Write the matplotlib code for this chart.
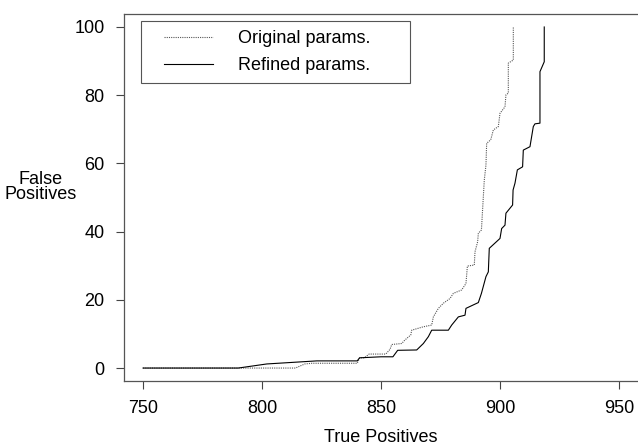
import numpy as np
import matplotlib
matplotlib.use("Agg")
import matplotlib.pyplot as plt
from matplotlib.legend_handler import HandlerLine2D

plt.rcParams['font.family'] = ['Liberation Sans', 'DejaVu Sans']

# cumulative false positives vs true positives
orig_tp = [750, 814, 818, 821, 840, 841, 843, 845, 852, 853.8, 854.5, 858.7, 860, 862.5,
           862.9, 867.8, 871.3, 872, 874.1, 876.2, 879, 880.4, 883.9, 885.7, 886.3, 889.2,
           889.5, 890.6, 890.9, 892.2, 893.4, 894.1, 894.4, 896.1, 897.2, 899.3, 900, 902.1,
           902.5, 903.5, 903.5, 905.6, 905.6]
orig_fp = [0, 0, 1.2, 1.4, 1.4, 3.0, 3.0, 4.1, 4.1, 5.5, 6.9, 7.2, 8.2, 9.7,
           11.1, 12.1, 12.6, 15, 17.5, 19, 20.4, 21.9, 22.9, 24.8, 29.9, 30.2,
           34.1, 37, 39.5, 40.5, 55.1, 59.5, 65.9, 66.9, 69.8, 70.8, 74.7, 76.6,
           80.1, 80.6, 89.4, 90.3, 100]

ref_tp = [750, 790, 802, 823, 840, 841, 850, 855, 857, 865, 867.8, 869.9, 871.3, 878.3,
          879.7, 882.5, 885.3, 885.7, 890.9, 892.2, 894.1, 895.1, 895.5, 900, 900.7, 902.1,
          902.5, 905.3, 905.5, 906.3, 907.3, 909.5, 909.8, 912.6, 914, 914.7, 916.8, 916.8,
          918.6, 918.6]
ref_fp = [0, 0, 1.2, 2.1, 2.1, 3.0, 3.3, 3.3, 5.2, 5.3, 7.2, 9.2, 11.1, 11.1,
          12.6, 15.0, 15.5, 17.5, 19.2, 21.9, 26.8, 28.2, 35.1, 38, 40.9, 41.9,
          45.4, 47.8, 52.2, 54.2, 58.1, 59.0, 63.9, 64.9, 70.8, 71.6, 71.8, 86.9,
          89.8, 100]

xticks = [750, 800, 850, 900, 950]
yticks = [0, 20, 40, 60, 80, 100]

fig = plt.figure(figsize=(6.38, 4.45), dpi=100)
ax = fig.add_axes([0.1944, 0.1438, 0.8056, 0.8247])

l1, = ax.plot(orig_tp, orig_fp, color='#555555', linestyle=(0, (1, 1)), linewidth=0.8,
              label='Original params.')
l2, = ax.plot(ref_tp, ref_fp, color='black', linewidth=0.8, label='Refined params.')

ax.set_xlim(742, 958)
ax.set_ylim(-3.8, 103.8)
ax.set_xticks(xticks)
ax.set_yticks(yticks)
ax.tick_params(direction='out', length=6, width=0.8, labelsize=13, pad=8, color='#444444')
for s in ['left', 'bottom', 'top']:
    ax.spines[s].set_color('#555555')
    ax.spines[s].set_linewidth(0.9)
ax.spines['right'].set_visible(False)

ax.set_xlabel('True Positives', fontsize=13, labelpad=8)
ax.set_ylabel('False\nPositives', fontsize=13, rotation=0, ha='center', va='center',
              linespacing=0.85)
ax.yaxis.set_label_coords(-0.163, 0.529)

hmap = {l1: HandlerLine2D(xpad=0.8), l2: HandlerLine2D(xpad=0.8)}
leg = ax.legend(handler_map=hmap, loc='upper left',
                bbox_to_anchor=(0.033, 0.881, 0.523, 0.1), mode='expand',
                borderaxespad=0, fancybox=False, edgecolor='#555555', framealpha=1,
                fontsize=13, handlelength=3.5, handletextpad=1.4, borderpad=0.5,
                labelspacing=0.55)
leg.get_frame().set_linewidth(0.8)

fig.savefig('out.png', dpi=100)
